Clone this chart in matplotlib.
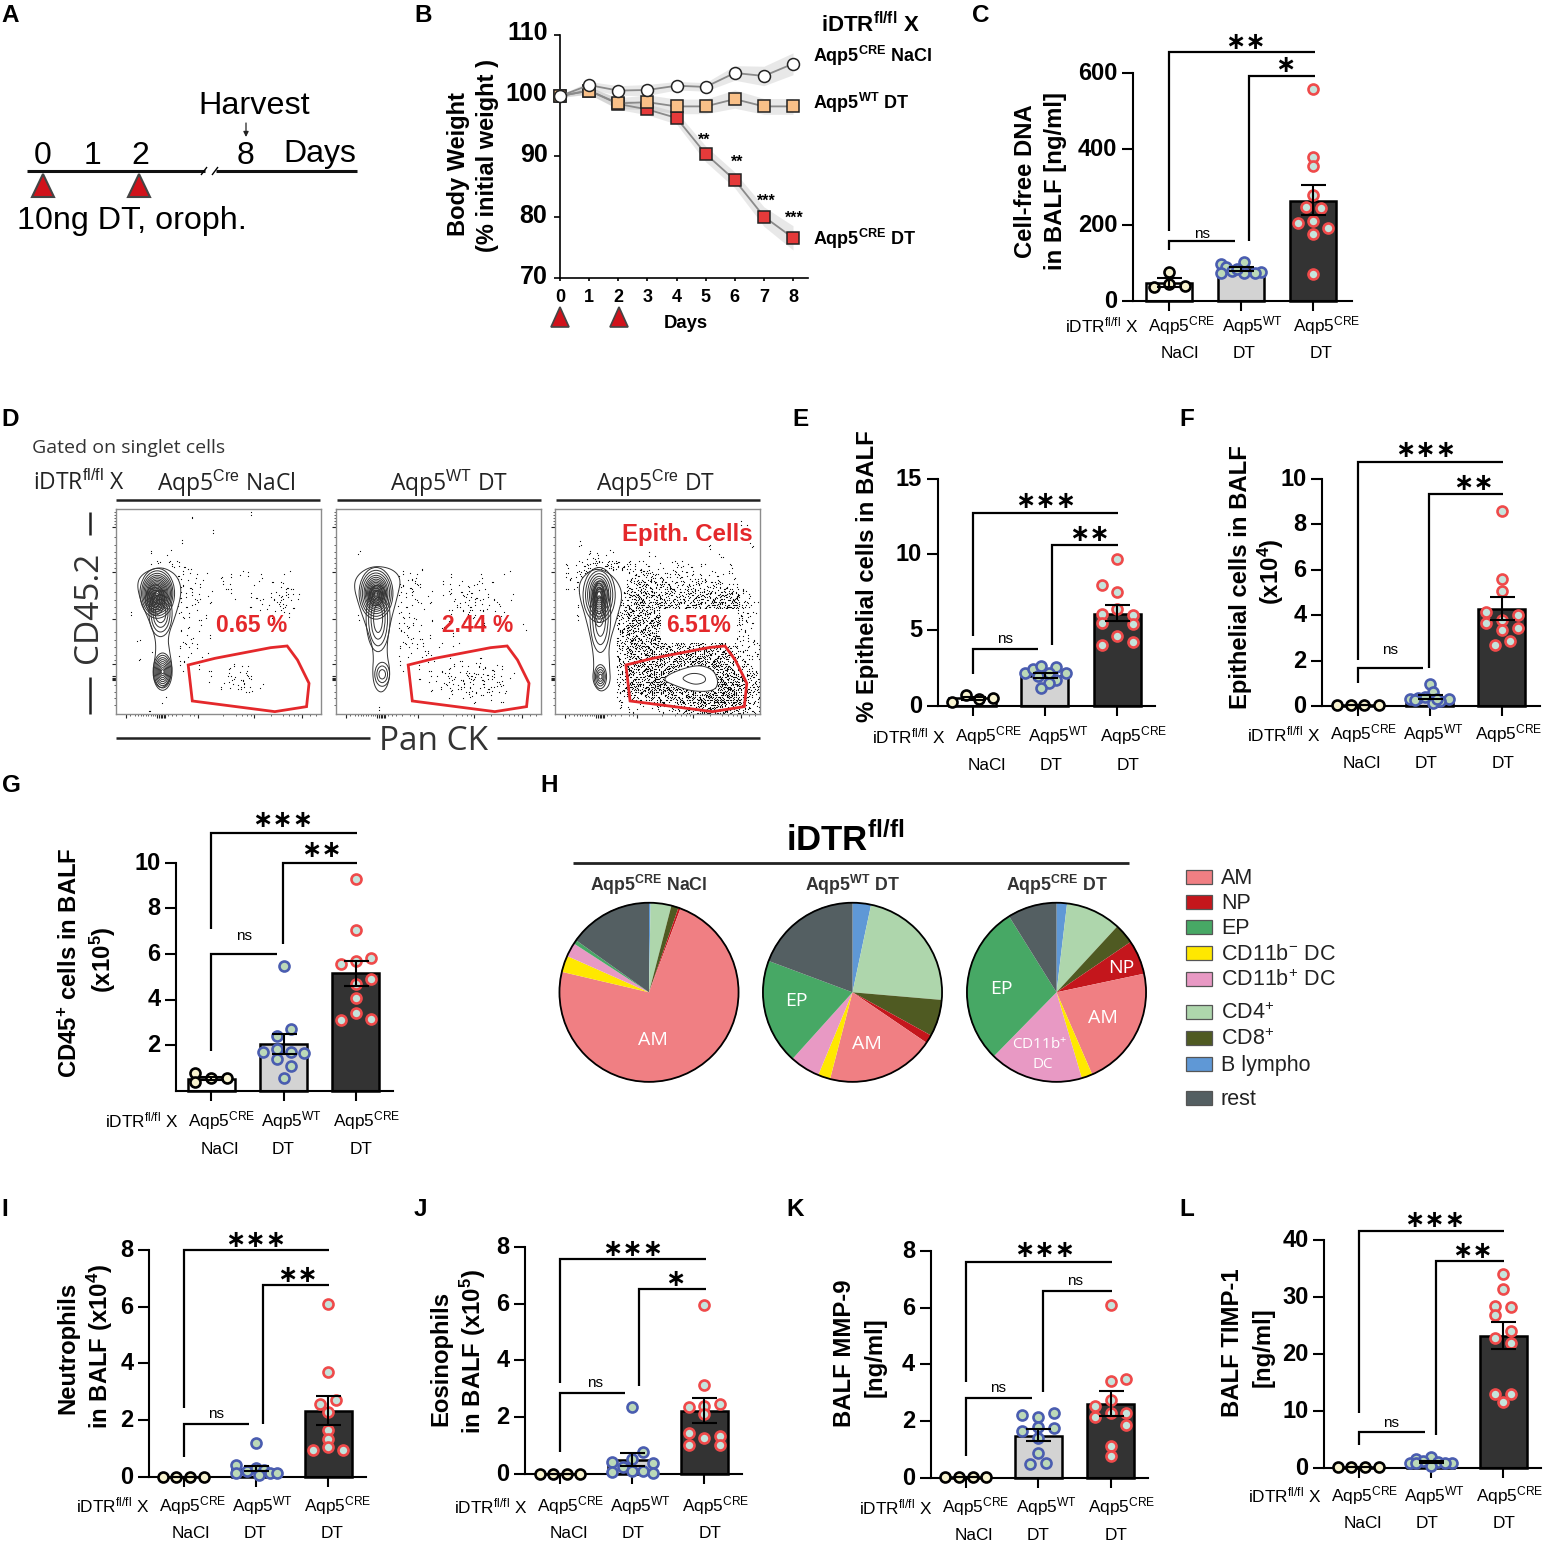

import numpy as np
import matplotlib
matplotlib.use("Agg")
import matplotlib.pyplot as plt
from matplotlib.patches import Polygon, Rectangle, Ellipse, Circle
from matplotlib.transforms import ScaledTranslation

plt.rcParams['font.family'] = ['Liberation Sans', 'DejaVu Sans']
plt.rcParams['mathtext.fontset'] = 'custom'
plt.rcParams['mathtext.rm'] = 'Liberation Sans'
plt.rcParams['mathtext.bf'] = 'Liberation Sans:bold'
plt.rcParams['mathtext.it'] = 'Liberation Sans:italic'

# ---------- DATA ----------
groups_row1 = ["Aqp5$^{\\mathrm{CRE}}$", "Aqp5$^{\\mathrm{WT}}$", "Aqp5$^{\\mathrm{CRE}}$"]
groups_row2 = ["NaCl", "DT", "DT"]

days = [0, 1, 2, 3, 4, 5, 6, 7, 8]
bw_nacl = [99.9, 101.7, 100.8, 100.9, 101.6, 101.4, 103.7, 103.2, 105.2]
bw_wt = [99.9, 100.8, 98.7, 98.9, 98.2, 98.2, 99.4, 98.2, 98.2]
bw_cre = [99.9, 100.8, 98.6, 97.7, 96.3, 90.4, 86.1, 80.1, 76.6]
bw_nacl_sem = [0.2, 0.6, 0.8, 0.9, 0.7, 0.7, 1.2, 1.6, 1.8]
bw_wt_sem = [0.2, 0.6, 0.9, 1.2, 1.2, 1.2, 1.5, 1.3, 1.3]
bw_cre_sem = [0.2, 0.6, 0.9, 0.9, 1.0, 1.3, 1.3, 1.6, 2.0]

C_vals = ([76.6, 35, 43, 39],
          [98, 101, 90, 74, 79, 74, 76, 72, 84],
          [558, 378, 356, 279, 246, 243, 210, 206, 191, 176, 70])
C_jit = ([0, -.21, 0, .22],
         [-.28, .04, -.21, -.28, -.12, .04, .28, .19, -.05],
         [0, 0, 0, 0, -.1, .11, 0, -.21, .21, 0, 0])
C_bar, C_hi, C_lo = [47, 84, 263], [59, 89, 304], [37, 79, 226]

E_vals = ([.29, .7, .44, .53],
          [2.15, 2.42, 2.64, 2.55, 2.15, 2.15, 1.95, 1.7, 1.5, 1.2],
          [9.67, 7.98, 7.5, 6.4, 6.05, 6.0, 5.45, 5.4, 4.6, 4.0, 4.2])
E_jit = ([-.28, -.09, .09, .28],
         [-.28, -.17, -.06, .16, .29, .05, -.1, .16, .06, -.06],
         [0, -.21, 0, 0, -.21, .22, -.21, .22, 0, -.21, .22])
E_bar, E_hi, E_lo = [.5, 2.0, 6.1], [.58, 2.2, 6.65], [.42, 1.85, 5.6]

F_vals = ([.03, .03, .03, .03],
          [.95, .6, .3, .37, .41, .3, .23, .12, .25, .3],
          [8.6, 5.57, 5.06, 4.13, 4.0, 3.78, 3.64, 3.34, 3.45, 2.87, 2.7])
F_jit = ([-.29, -.1, .09, .29],
         [0, .05, -.28, -.16, -.07, .27, .14, .04, -.2, .1],
         [0, .01, .01, -.22, .23, .01, -.22, .01, .23, .12, -.1])
F_bar, F_hi, F_lo = [.03, .37, 4.25], [.03, .5, 4.8], [.03, .3, 3.78]

G_vals = ([.79, .39, .54, .54],
          [5.48, 2.7, 2.4, 1.81, 1.7, 1.67, 1.7, 1.4, 1.1, .57],
          [9.28, 7.05, 5.83, 5.69, 5.57, 4.91, 4.7, 4.06, 3.39, 3.11, 3.14])
G_jit = ([-.22, -.22, 0, .22],
         [0, .1, -.09, -.09, -.28, .28, .1, -.09, .1, 0],
         [0, 0, .21, 0, -.21, .21, 0, 0, 0, -.21, .21])
G_bar, G_hi, G_lo = [.52, 2.05, 5.15], [.62, 2.47, 5.7], [.47, 1.6, 4.6]

I_vals = ([0, 0, 0, 0],
          [1.2, .41, .12, .21, .3, .24, .06, .12, .12],
          [6.08, 3.7, 2.7, 2.56, 2.3, 1.65, 1.33, 1.04, .94, .94])
I_jit = ([-.28, -.1, .09, .28],
         [0, -.27, -.27, -.13, 0, .11, .04, .2, .29],
         [0, 0, .11, -.11, 0, 0, 0, 0, -.21, .21])
I_bar, I_hi, I_lo = [0, .28, 2.32], [0, .39, 2.86], [0, .21, 1.82]

J_vals = ([0, 0, 0, 0],
          [2.35, .79, .52, .41, .4, .08, .23, .12, .12, .02],
          [5.94, 3.12, 2.45, 2.35, 2.39, 2.1, 1.45, 1.34, 1.25, 1.03, 1.03])
J_jit = ([-.27, -.09, .1, .28],
         [0, .15, 0, -.28, .29, -.28, -.13, 0, .15, .29],
         [0, 0, .22, -.21, 0, 0, -.21, .22, 0, -.21, .22])
J_bar, J_hi, J_lo = [0, .5, 2.22], [0, .75, 2.66], [0, .28, 1.8]

K_vals = ([.02, .02, .02, .02],
          [2.3, 2.2, 2.16, 1.8, 1.77, 1.64, 1.4, .89, .52, .49],
          [6.1, 3.5, 3.4, 2.75, 2.53, 2.3, 2.28, 2.13, 1.88, 1.13, .79])
K_jit = ([-.28, -.09, .1, .28],
         [.22, -.22, 0, 0, .22, -.22, 0, 0, .11, -.11],
         [0, .21, 0, 0, -.21, .21, 0, -.21, .21, 0, 0])
K_bar, K_hi, K_lo = [.02, 1.48, 2.6], [.02, 1.72, 3.06], [.02, 1.29, 2.17]

L_vals = ([.2, .2, .2, .2],
          [1.9, 1.47, .76, 1.2, 1.05, .76, .3, .9, .9],
          [34, 31.5, 28.4, 28.2, 26.9, 24, 22.8, 21.9, 12.9, 12.9, 11.5])
L_jit = ([-.28, -.1, .09, .28],
         [0, -.21, -.29, -.11, .1, .29, 0, -.2, .2],
         [0, 0, -.11, .11, -.11, .11, -.11, .11, -.11, .11, 0])
L_bar, L_hi, L_lo = [.2, 1.0, 23.2], [.2, 1.2, 25.6], [.2, .8, 20.9]

pie_labels = ["B lympho", "CD4$^{+}$", "CD8$^{+}$", "NP", "AM", "CD11b$^{-}$ DC", "CD11b$^{+}$ DC", "EP", "rest"]
pie_colors = ["#5f98d6", "#aed6ac", "#4f5a22", "#c4161c", "#f07f83", "#ffe800", "#e899c4", "#47a865", "#545f62"]
pie_nacl = [1.0, 13.5, 4.7, 1.4, 262.6, 10.7, 9.1, 2.5, 54.5]
pie_wt = [12, 82.9, 23.9, 5.5, 70.2, 8, 19.5, 68.5, 69.5]
pie_cre = [6.8, 35.9, 13.1, 22.2, 78.5, 7.1, 60.8, 103.6, 32]

# flow-cytometry events: estimated density of dots per cell of a 20 x 20 grid (hex digits)
flow1_counts = ["00000001000001000000", "00000000000000000000", "00000000010000000000", "00000010000000000000",
                "00010100000000000000", "00012321000000000000", "00000032101120101000", "00100022102101013100",
                "00000032110102134200", "00000022010001223100", "01000021201000012000", "00000011100000010000",
                "00100011010000000000", "00010022000000000000", "00101021100000000000", "00000010110220000000",
                "00001100011341000000", "00000000001231100000", "00001000000000000000", "00010000000000000000"]
flow2_counts = ["00000000000000000000", "00000000000000000000", "00000000000000000000", "00000000000000000000",
                "00100000000000000000", "00000000100000000000", "00000023000100101000", "00000034101122110000",
                "00000022011243210100", "00000021110233320000", "00100022010112101000", "00000032101000100010",
                "00000021110100000000", "00000022201100000000", "00000011210110100000", "00000010111222221000",
                "00000000122345431100", "00000000012333432000", "00000000000112111000", "00001000000000000000"]
flow3_counts = ["00000000000000000000", "00000000000000000010", "00000000000000000000", "00100000000000010001",
                "00021100010000001000", "01244643211211100100", "02352104453232221100", "01310005865645444210",
                "00200048A87667779A20", "00100059A8A78899CB31", "0010005998A88778A541", "0000006A997445444421",
                "000000597A9544344321", "0000005A8A8777877432", "00000058AA98ABAA9632", "0000005AAB9AAACCA742",
                "000000498ECA8889CB85", "0000006ABEDCB89CED86", "0000002456789ADEED84", "00000012113467AB9A63"]
flow_pct = ["0.65 %", "2.44 %", "6.51%"]

# ---------- HELPERS ----------
W = 1548
fig = plt.figure(figsize=(15.48, 15.48), dpi=100, facecolor='white')

def axpx(l, t, r, b, **kw):
    return fig.add_axes([l / W, 1 - b / W, (r - l) / W, (b - t) / W], **kw)

ov = fig.add_axes([0, 0, 1, 1], zorder=50)
ov.set_xlim(0, W)
ov.set_ylim(W, 0)
ov.axis('off')
ov.patch.set_alpha(0)

def T(x, y, s, size=12.4, weight='normal', color='black', ha='center', rot=0, **kw):
    if rot:
        x = x + 2.5
    else:
        y = y + 2
    return ov.text(x, y, s, fontsize=size, fontweight=weight, color=color, ha=ha, va='center',
                   rotation=rot, rotation_mode='anchor', **kw)

def L(xs, ys, lw=1.5, color='black', **kw):
    ov.plot(xs, ys, lw=lw, color=color, solid_capstyle='butt', solid_joinstyle='miter', **kw)

def nudge_ylabels(ax, px):
    off = ScaledTranslation(0, px / 100, fig.dpi_scale_trans)
    for lab in ax.get_yticklabels():
        lab.set_transform(lab.get_transform() + off)

FILL = ['#f8f3cf', '#bcd9b8', '#c5e4dc']
EDGE = ['black', '#4a5db0', '#ef4a4a']
BARC = ['white', '#d3d3d3', '#333333']
STAR = ['DejaVu Sans']

def bar_panel(axis_x, right, y0, ytop, ymax, yticks, c0, spacing, vals, jit, bar, hi, lo,
              origin, brackets, marks, dx, dy1, dy2):
    ax = axpx(axis_x, ytop, right, y0)
    ax.patch.set_alpha(0)
    ax.set_ylim(0, ymax)
    ax.set_xlim((axis_x - c0) / spacing, (right - c0) / spacing)
    for s in ('top', 'right'):
        ax.spines[s].set_visible(False)
    for s in ('left', 'bottom'):
        ax.spines[s].set_linewidth(1.5)
    ax.set_yticks(yticks)
    ax.set_yticklabels([str(t) for t in yticks], fontsize=17, fontweight='bold')
    ax.set_xticks([0, 1, 2])
    ax.set_xticklabels([])
    ax.tick_params(axis='y', length=8.2, width=1.5, pad=3)
    ax.tick_params(axis='x', length=7.5, width=1.5)
    nudge_ylabels(ax, 2)
    for i in range(3):
        ax.bar(i, bar[i], width=0.65, color=BARC[i], edgecolor='black', linewidth=1.8, zorder=2, clip_on=False)
        ax.plot(np.array(jit[i]) + i, vals[i], 'o', ms=7.2, mfc=FILL[i], mec=EDGE[i], mew=1.9, zorder=3, clip_on=False)
        ax.errorbar(i, bar[i], yerr=[[bar[i] - lo[i]], [hi[i] - bar[i]]], color='black', lw=1.5,
                    capsize=9, capthick=1.5, zorder=4, clip_on=False)
    ox, oy = origin
    for zx0, zyb, zyt, zx1 in brackets:
        L([ox + zx0 / 3, ox + zx0 / 3, ox + zx1 / 3], [oy + zyb / 3, oy + zyt / 3, oy + zyt / 3], lw=1.6)
    for zx, zy, s in marks:
        if s == 'ns':
            T(ox + zx / 3, oy + zy / 3 - 1, 'ns', size=11)
        else:
            T(ox + zx / 3, oy + zy / 3 - 2, s, size=17.5, weight='bold', family=STAR)
    # category labels
    cs = [c0 + spacing * i for i in range(3)]
    T(c0 - 70 + dx, y0 + dy1 - 1, "iDTR$^{\\mathrm{fl/fl}}$ X")
    for i, off in enumerate([10, 8, 11]):
        T(cs[i] + off + dx, y0 + dy1 - 1, groups_row1[i])
    for i, off in enumerate([8, 0, 5]):
        T(cs[i] + off + dx, y0 + dy2 - 1, groups_row2[i])
    return ax

def ylab(x, y, s, size=17.2):
    T(x, y, s, size=size, weight='bold', rot=90)

# ---------- panel letters ----------
for s, x, y in [('A', 10, 14), ('B', 423, 14), ('C', 981, 14), ('D', 10, 418), ('E', 800, 418), ('F', 1187, 418),
                ('G', 11, 784), ('H', 549, 784), ('I', 5, 1207), ('J', 420, 1207), ('K', 795, 1207), ('L', 1187, 1207)]:
    T(x, y, s, size=17.5, weight='bold')

# ---------- A ----------
L([27, 205], [171, 171], lw=2.2, color='#111111')
L([216, 357], [171, 171], lw=2.2, color='#111111')
L([201, 207], [175, 167], lw=1)
L([212, 218], [175, 167], lw=1)
for x in (43, 139):
    ov.add_patch(Polygon([(x, 174), (x - 11, 197), (x + 11, 197)], fc='#d0121b', ec='#444444', lw=1.5))
for x, s in [(43, '0'), (92, '1'), (140, '2'), (245, '8')]:
    T(x, 154, s, size=23)
T(320, 152, 'Days', size=23)
T(254, 104, 'Harvest', size=23.3)
T(132, 219, '10ng DT, oroph.', size=23.2)
ov.annotate('', xy=(246, 137), xytext=(246, 123),
            arrowprops=dict(arrowstyle='-|>,head_width=0.15,head_length=0.3', color='#222222', lw=0.9, shrinkA=0, shrinkB=0))

# ---------- B ----------
axb = axpx(560, 34.6, 808, 278)
axb.patch.set_alpha(0)
axb.set_ylim(70, 110)
axb.set_xlim(0, 8.515)
for s in ('top', 'right'):
    axb.spines[s].set_visible(False)
for s in ('left', 'bottom'):
    axb.spines[s].set_linewidth(1.2)
axb.set_yticks([70, 80, 90, 100, 110])
axb.set_yticklabels(['70', '80', '90', '100', '110'], fontsize=18, fontweight='bold')
axb.set_xticks(days)
axb.set_xticklabels([str(d) for d in days], fontsize=13, fontweight='bold')
axb.tick_params(axis='y', length=4, width=1.2, pad=5)
axb.tick_params(axis='x', length=2, width=1.2, pad=6)
nudge_ylabels(axb, 4)
d = np.array(days)
for vals, sem, mk, fc in [(bw_cre, bw_cre_sem, 's', '#e53a3a'), (bw_wt, bw_wt_sem, 's', '#f9c088'), (bw_nacl, bw_nacl_sem, 'o', 'white')]:
    v, e = np.array(vals), np.array(sem)
    axb.fill_between(d, v - e, v + e, color='#999999', alpha=0.22, lw=0, clip_on=False, zorder=1)
    axb.plot(d, v, color='#8a8a8a', lw=1.3, marker=mk, ms=8.6, mfc=fc, mec='#222222', mew=1.1, clip_on=False, zorder=3)
for x, y, s in [(704, 138, '**'), (737, 160, '**'), (766, 199, '***'), (794, 216, '***')]:
    T(x, y, s, size=11.5, weight='bold')
ylab(456, 164, 'Body Weight', 17)
ylab(485, 155, '(% initial weight )', 17)
T(870, 23, "iDTR$^{\\mathbf{fl/fl}}$ X", size=16, weight='bold')
T(813, 54, "Aqp5$^{\\mathbf{CRE}}$ NaCl", size=13, weight='bold', ha='left')
T(813, 101, "Aqp5$^{\\mathbf{WT}}$ DT", size=13, weight='bold', ha='left')
T(813, 237, "Aqp5$^{\\mathbf{CRE}}$ DT", size=13, weight='bold', ha='left')
T(686, 322, 'Days', size=13.3, weight='bold')
for x in (560, 619):
    ov.add_patch(Polygon([(x, 307), (x - 9, 327), (x + 9, 327)], fc='#d0121b', ec='#444444', lw=1.2))

# ---------- bar panels ----------
bar_panel(1133, 1352, 300.7, 73, 600, [0, 200, 400, 600], 1169, 72, C_vals, C_jit, C_bar, C_hi, C_lo, (960, 20),
          [(628, 632, 95, 1065), (867, 662, 167, 1065), (628, 690, 663, 825)],
          [(855, 65, '∗∗'), (975, 135, '∗'), (725, 640, 'ns')], 3, 24, 52)
ylab(1023, 181, 'Cell-free DNA'); ylab(1053, 181, 'in BALF [ng/ml]')

bar_panel(937.7, 1155, 706, 478.7, 15, [0, 5, 10, 15], 972.7, 72.2, E_vals, E_jit, E_bar, E_hi, E_lo, (840, 430),
          [(398, 618, 248, 833), (637, 645, 345, 833), (398, 732, 658, 595)],
          [(617, 212, '∗∗∗'), (750, 312, '∗∗'), (495, 625, 'ns')], 6, 29, 58)
ylab(865, 576, '% Epithelial cells in BALF')

bar_panel(1322.3, 1540, 706, 478.7, 10, [0, 2, 4, 6, 8, 10], 1357.7, 72, F_vals, F_jit, F_bar, F_hi, F_lo, (1210, 430),
          [(443, 690, 97, 880), (658, 715, 192, 880), (443, 760, 715, 640)],
          [(648, 60, '∗∗∗'), (790, 160, '∗∗'), (540, 657, 'ns')], -4, 27, 56)
ylab(1238, 577, 'Epithelial cells in BALF'); ylab(1268, 572, '(x10$^{\\mathbf{4}}$)')

bar_panel(176, 393, 1090.7, 862.7, 10, [2, 4, 6, 8, 10], 211.3, 72.2, G_vals, G_jit, G_bar, G_hi, G_lo, (50, 800),
          [(484, 388, 100, 920), (698, 432, 188, 920), (484, 752, 462, 680)],
          [(698, 60, '∗∗∗'), (813, 150, '∗∗'), (581, 405, 'ns')], 0, 29, 58)
ylab(68, 963, 'CD45$^{\\mathbf{+}}$ cells in BALF'); ylab(100, 960, '(x10$^{\\mathbf{5}}$)')

bar_panel(149, 366, 1476.7, 1250, 8, [0, 2, 4, 6, 8], 183.7, 72.2, I_vals, I_jit, I_bar, I_hi, I_lo, (50, 1220),
          [(402, 565, 90, 836), (640, 612, 195, 836), (402, 710, 612, 598)],
          [(618, 60, '∗∗∗'), (743, 165, '∗∗'), (497, 580, 'ns')], -1, 28, 56)
ylab(65, 1348, 'Neutrophils'); ylab(97, 1347, 'in BALF (x10$^{\\mathbf{4}}$)')

bar_panel(525, 742, 1474, 1246.7, 8, [0, 2, 4, 6, 8], 559.7, 72.2, J_vals, J_jit, J_bar, J_hi, J_lo, (420, 1220),
          [(420, 488, 118, 857), (658, 497, 206, 857), (420, 695, 520, 615)],
          [(637, 88, '∗∗∗'), (766, 178, '∗'), (525, 487, 'ns')], 1, 31, 59)
ylab(438, 1358, 'Eosinophils'); ylab(470, 1352, 'in BALF (x10$^{\\mathbf{5}}$)')

bar_panel(930.7, 1148, 1478, 1250.7, 8, [0, 2, 4, 6, 8], 965.7, 72.5, K_vals, K_jit, K_bar, K_hi, K_lo, (820, 1220),
          [(438, 485, 125, 875), (668, 515, 213, 875), (438, 707, 533, 635)],
          [(675, 90, '∗∗∗'), (766, 180, 'ns'), (533, 500, 'ns')], 0, 28, 56)
ylab(842, 1353, 'BALF MMP-9'); ylab(873, 1357, '[ng/ml]')

bar_panel(1324, 1541, 1467.7, 1240.3, 40, [0, 10, 20, 30, 40], 1358.7, 72.2, L_vals, L_jit, L_bar, L_hi, L_lo, (1208, 1200),
          [(452, 638, 93, 888), (683, 705, 183, 888), (452, 735, 695, 650)],
          [(680, 60, '∗∗∗'), (793, 152, '∗∗'), (550, 665, 'ns')], -4, 27, 55)
ylab(1230, 1343, 'BALF TIMP-1'); ylab(1261, 1347, '[ng/ml]')

# ---------- D: flow panels ----------
OS = ['Open Sans', 'DejaVu Sans']
T(32, 446, 'Gated on singlet cells', size=14, color='#333333', ha='left', family=OS)
T(33, 481, "iDTR$^{\\mathrm{fl/fl}}$ X", size=16.5, color='#222222', ha='left', family=OS)
T(226, 481, "Aqp5$^{\\mathrm{Cre}}$ NaCl", size=16.5, color='#222222', family=OS)
T(449, 481, "Aqp5$^{\\mathrm{WT}}$ DT", size=16.5, color='#222222', family=OS)
T(656, 481, "Aqp5$^{\\mathrm{Cre}}$ DT", size=16.5, color='#222222', family=OS)
for a, b in [(116, 320), (337, 541), (556, 760)]:
    L([a, b], [499.5, 499.5], lw=1.8, color='#222222')
L([90, 90], [512, 535], lw=1.8, color='#222222')
L([90, 90], [677, 714], lw=1.8, color='#222222')
T(86, 607, 'CD45.2', size=24, color='#333333', rot=90, family=OS)
T(434, 739, 'Pan CK', size=24, color='#333333', family=OS)
L([116, 370], [738, 738], lw=1.8, color='#222222')
L([497, 760], [738, 738], lw=1.8, color='#222222')

def smooth(pts, n=3):
    p = np.array(pts, float)
    for _ in range(n):
        q = np.roll(p, -1, axis=0)
        p = np.column_stack([0.75 * p + 0.25 * q, 0.25 * p + 0.75 * q]).reshape(-1, 2)
    return p

GATE = [(175, 480), (240, 460), (375, 428), (415, 423), (440, 465), (468, 535), (462, 605), (385, 620), (185, 588)]
SUB = [(.12, .31), (.62, .81), (.37, .06), (.87, .56), (.24, .69), (.74, .19), (.49, .94), (.99, .44),
       (.05, .56), (.55, .06), (.30, .81), (.80, .31), (.18, .12), (.68, .62), (.43, .37), (.93, .87)]
PASS = [(0, 0), (.37, .21), (.71, .53), (.17, .79)]
xmaj = [25, 100, 104, 108, 112, 116, 120, 200, 335, 450]
xmin = [35, 45, 53, 60, 66, 72, 78, 84, 90, 95, 127, 135, 145, 160, 180, 190, 260, 290, 305, 318, 328,
        375, 405, 420, 432, 442, 470, 485]
ymaj = [65, 200, 342, 478, 514, 518, 522, 526]
ymin = [20, 30, 40, 48, 58, 95, 120, 140, 160, 175, 190, 235, 260, 285, 305, 325, 380, 405, 425, 450, 465, 540, 560, 580, 600]
flows = [
    dict(l=116, r=321, counts=flow1_counts, shift=0, passes=2,
         outer=[(100, 187), (65, 205), (50, 235), (60, 290), (78, 340), (95, 395), (97, 440), (90, 490), (92, 530), (110, 553),
                (130, 530), (137, 490), (130, 440), (125, 395), (145, 330), (160, 260), (150, 215), (125, 192)],
         ell=[(100, 265, [84, 76, 70, 64, 58, 52, 47, 42, 37, 32, 27, 22, 17, 12, 8], [150, 135, 120, 108, 98, 88, 79, 70, 62, 54, 46, 38, 30, 22, 14]),
              (95, 285, [46, 38, 30, 22, 14, 8], [90, 74, 58, 44, 30, 16]),
              (108, 325, [56, 46, 36, 26], [140, 112, 84, 56]),
              (113, 500, [46, 41, 36, 31, 26, 21, 16, 11, 7], [112, 98, 84, 72, 60, 48, 36, 24, 12])]),
    dict(l=336, r=541, counts=flow2_counts, shift=0, passes=2,
         outer=[(90, 182), (55, 205), (42, 240), (55, 300), (75, 370), (92, 440), (88, 510), (95, 550), (110, 565),
                (125, 545), (132, 500), (122, 440), (130, 360), (150, 270), (158, 220), (135, 190)],
         ell=[(97, 265, [82, 74, 66, 58, 52, 46, 41, 36, 31, 26, 21, 16, 11, 7], [155, 138, 122, 108, 96, 85, 75, 66, 57, 48, 39, 30, 21, 12]),
              (97, 272, [34, 26, 18, 10], [60, 46, 32, 16]),
              (102, 340, [58, 46, 34, 22], [200, 165, 125, 85]),
              (112, 508, [36, 26, 16], [72, 50, 28])]),
    dict(l=555, r=760, counts=flow3_counts, shift=-3, passes=3,
         outer=[(90, 192), (60, 225), (58, 270), (75, 340), (90, 420), (95, 480), (90, 530), (110, 565), (135, 540),
                (132, 480), (130, 420), (150, 340), (165, 270), (150, 225), (120, 195)],
         ell=[(107, 270, [78, 66, 56, 47, 40, 34, 28, 23, 18, 14, 10], [165, 145, 128, 112, 98, 84, 72, 60, 48, 36, 24]),
              (107, 300, [30, 24, 18, 12], [130, 105, 80, 55]),
              (110, 335, [50, 38, 26], [215, 168, 118]),
              (110, 515, [30, 24, 18, 13, 8], [72, 56, 42, 28, 14])]),
]
for k, fl in enumerate(flows):
    ax = axpx(fl['l'], 509, fl['r'], 714.3)
    ax.set_xlim(0, 497)
    ax.set_ylim(628, 12)
    for s in ax.spines.values():
        s.set_linewidth(1.0)
        s.set_color('#8c8c8c')
    ax.set_xticks(xmaj)
    ax.set_xticks(xmin, minor=True)
    ax.set_yticks(ymaj)
    ax.set_yticks(ymin, minor=True)
    ax.set_xticklabels([])
    ax.set_yticklabels([])
    ax.tick_params(which='major', length=3, width=0.8, color='#222222')
    ax.tick_params(which='minor', length=1.6, width=0.5, color='#222222')
    cw, ch = 497 / 20, 616 / 20
    xs, ys = [], []
    for r, row in enumerate(fl['counts']):
        for c, h in enumerate(row):
            n = int(h, 16)
            for p in range(fl['passes']):
                start = (r * 5 + c * 7 + p * 3) % 16
                for m in range(n):
                    sx, sy = SUB[(start + m) % 16]
                    sx, sy = (sx + PASS[p][0]) % 1, (sy + PASS[p][1]) % 1
                    if (r + c) % 2:
                        sx = 1 - sx
                    xs.append((c + sx) * cw)
                    ys.append(12 + (r + sy) * ch)
    ax.scatter(xs, ys, s=0.75, c='black', linewidths=0, zorder=2)
    ax.add_patch(Polygon(smooth(fl['outer']), closed=True, fc='white', ec='#333333', lw=0.7, zorder=3))
    for cx, cy, ws, hs in fl['ell']:
        for w_, h_ in zip(ws, hs):
            ax.add_patch(Ellipse((cx, cy), w_, h_, fc='none', ec='#333333', lw=0.7, zorder=4))
    if k == 2:
        ax.add_patch(Polygon(smooth([(252, 520), (337, 478), (382, 490), (397, 530), (387, 558), (337, 560), (297, 545)]),
                             closed=True, fc='white', ec='#333333', lw=0.7, zorder=4))
        ax.add_patch(Polygon(smooth([(307, 518), (332, 503), (362, 510), (367, 530), (342, 540), (317, 530)]),
                             closed=True, fc='white', ec='#333333', lw=0.7, zorder=4))
    g = [(x + fl['shift'], y) for x, y in GATE]
    ax.add_patch(Polygon(g, closed=True, fc='none', ec='#e4282b', lw=2.0, zorder=5))
RED = '#e4282b'
T(252, 624, flow_pct[0], size=16.5, weight='bold', color=RED)
T(478, 624, flow_pct[1], size=16.5, weight='bold', color=RED)
T(699, 624, flow_pct[2], size=16.5, weight='bold', color=RED, bbox=dict(fc='white', ec='none', pad=4))
T(687, 532, 'Epith. Cells', size=17.3, weight='bold', color=RED)

# ---------- H: pies ----------
T(845, 838, "iDTR$^{\\mathbf{fl/fl}}$", size=25, weight='bold')
L([573, 1129], [863, 863], lw=2, color='#222222')
for cx, vals, title in [(649, pie_nacl, "Aqp5$^{\\mathbf{CRE}}$ NaCl"), (852.5, pie_wt, "Aqp5$^{\\mathbf{WT}}$ DT"), (1056.5, pie_cre, "Aqp5$^{\\mathbf{CRE}}$ DT")]:
    ax = axpx(cx - 90, 902.3, cx + 90, 1082.3)
    ax.pie(vals, colors=pie_colors, startangle=90, counterclock=False, radius=1, wedgeprops=dict(linewidth=0))
    ax.set_xlim(-1, 1)
    ax.set_ylim(-1, 1)
    ax.add_patch(Circle((0, 0), 0.995, fc='none', ec='black', lw=1.3, clip_on=False))
    T(cx, 883, title, size=12.8, weight='bold', color='#333333')
for x, y, s, sz in [(652.6, 1037.7, 'AM', 14), (796, 999, 'EP', 14), (866.7, 1042, 'AM', 14), (1001.8, 986.7, 'EP', 14),
                    (1121, 965.7, 'NP', 14), (1102.8, 1016, 'AM', 14), (1040, 1043, 'CD11b$^{+}$', 11), (1042.6, 1062, 'DC', 11)]:
    T(x, y, s, size=sz, color='white', family=OS)
leg_order = [4, 3, 7, 5, 6, 1, 2, 0, 8]
leg_y = [876.7, 902.3, 927.3, 953, 979, 1012, 1038, 1064, 1097.7]
for i, y in zip(leg_order, leg_y):
    ov.add_patch(Rectangle((1185.5, y - 7), 26.5, 14, fc=pie_colors[i], ec='#555555', lw=0.9))
    T(1221, y - 0.5, pie_labels[i], size=15.5, color='#222222', ha='left')

fig.savefig('out.png', dpi=100)
